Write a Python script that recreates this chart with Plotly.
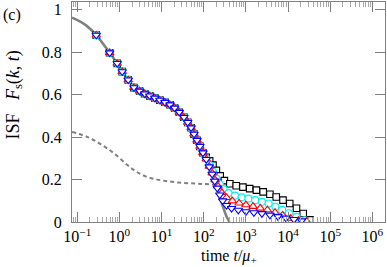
import plotly.graph_objects as go

# ---- data (log10 of time t/mu_+ and ISF values) ----
logt_common = [-0.55, -0.232, -0.052, 0.066, 0.209, 0.344, 0.479, 0.60, 0.72, 0.84, 0.96,
               1.08, 1.20, 1.31, 1.42, 1.53, 1.62, 1.70, 1.77, 1.84, 1.91, 1.98]
F_common = [0.880, 0.797, 0.747, 0.708, 0.669, 0.633, 0.617, 0.604, 0.594, 0.584, 0.574,
            0.564, 0.552, 0.537, 0.517, 0.493, 0.469, 0.444, 0.414, 0.385, 0.356, 0.326]

logt_black = [2.06, 2.14, 2.22, 2.30, 2.39, 2.49, 2.62, 2.77, 2.93, 3.09, 3.25, 3.41, 3.57,
              3.72, 3.88, 4.04, 4.20, 4.36, 4.52]
F_black = [0.305, 0.288, 0.268, 0.243, 0.217, 0.195, 0.180, 0.171, 0.164, 0.157, 0.150, 0.142,
           0.131, 0.118, 0.103, 0.087, 0.065, 0.040, 0.010]

logt_cyan = [2.06, 2.14, 2.22, 2.30, 2.38, 2.47, 2.59, 2.74, 2.90, 3.06, 3.22, 3.38, 3.54,
             3.70, 3.86, 4.02, 4.20, 4.40]
F_cyan = [0.298, 0.268, 0.236, 0.205, 0.178, 0.155, 0.136, 0.124, 0.116, 0.110, 0.103, 0.095,
          0.087, 0.072, 0.057, 0.041, 0.024, 0.008]

logt_red = [2.06, 2.13, 2.20, 2.27, 2.34, 2.43, 2.54, 2.68, 2.84, 3.00, 3.17, 3.34, 3.51,
            3.69, 3.87, 4.06, 4.25, 4.44]
F_red = [0.296, 0.262, 0.230, 0.198, 0.168, 0.138, 0.115, 0.099, 0.089, 0.081, 0.073, 0.065,
         0.057, 0.045, 0.032, 0.017, 0.008, 0.004]

logt_blue = [2.06, 2.13, 2.20, 2.26, 2.32, 2.38, 2.45, 2.54, 2.66, 2.82, 3.00, 3.19, 3.38,
             3.57, 3.76, 3.95, 4.14, 4.32]
F_blue = [0.295, 0.260, 0.226, 0.193, 0.160, 0.128, 0.100, 0.078, 0.064, 0.056, 0.049, 0.044,
          0.040, 0.033, 0.026, 0.019, 0.012, 0.006]

logt_gray_head = [-1.125, -0.95, -0.79]
F_gray_head = [0.962, 0.946, 0.926]
logt_gray_tail = [2.06, 2.13, 2.20, 2.27, 2.34, 2.41, 2.48, 2.55, 2.61]
F_gray_tail = [0.293, 0.258, 0.222, 0.185, 0.145, 0.100, 0.058, 0.022, 0.0]

logt_dash = [-1.125, -0.754, -0.44, -0.12, 0.19, 0.40, 0.62, 0.85, 1.10, 1.40, 1.70, 2.00, 2.30]
F_dash = [0.424, 0.400, 0.366, 0.322, 0.268, 0.237, 0.215, 0.202, 0.193, 0.186, 0.182, 0.179, 0.175]

xtick_vals = [1e-1, 1e0, 1e1, 1e2, 1e3, 1e4, 1e5, 1e6]
xtick_text = ["10<sup>−1</sup>", "10<sup>0</sup>", "10<sup>1</sup>", "10<sup>2</sup>",
              "10<sup>3</sup>", "10<sup>4</sup>", "10<sup>5</sup>", "10<sup>6</sup>"]
ytick_vals = [0, 0.2, 0.4, 0.6, 0.8, 1]
ytick_text = ["0", "0.2", "0.4", "0.6", "0.8", "1"]

def tt(lst):
    return [10 ** v for v in lst]

GRAY = "#808080"
FONT = "Liberation Serif, DejaVu Serif, serif"

fig = go.Figure()

gray_t = tt(logt_gray_head + logt_common + logt_gray_tail)
gray_F = F_gray_head + F_common + F_gray_tail
fig.add_trace(go.Scatter(x=gray_t, y=gray_F, mode="lines", line_shape="spline",
                         line=dict(color=GRAY, width=2.6), showlegend=False))
fig.add_trace(go.Scatter(x=tt(logt_dash), y=F_dash, mode="lines", line_shape="spline",
                         line=dict(color=GRAY, width=2, dash="4px,3px"), showlegend=False))

series = [
    (logt_black, F_black, "square", "black", 6.5),
    (logt_cyan, F_cyan, "circle", "#00f0f0", 7),
    (logt_red, F_red, "triangle-up", "red", 7.5),
    (logt_blue, F_blue, "triangle-down", "blue", 7.5),
]
for lt, F, sym, col, sz in series:
    fig.add_trace(go.Scatter(
        x=tt(logt_common + lt), y=F_common + F, mode="markers",
        marker=dict(symbol=sym, size=sz, color="white", line=dict(color=col, width=1.1)),
        showlegend=False))

minor_vals = [m * 10 ** d for d in range(-2, 7) for m in range(2, 10)]

fig.update_xaxes(
    type="log", range=[-1.125, 6.3], automargin=False,
    tickmode="array", tickvals=xtick_vals, ticktext=xtick_text,
    ticks="inside", ticklen=10, tickwidth=1, tickcolor=GRAY,
    showline=True, linecolor=GRAY, linewidth=1.3, mirror="ticks",
    showgrid=False, zeroline=False,
    minor=dict(tickmode="array", tickvals=minor_vals, ticks="inside", ticklen=5,
               tickwidth=1, tickcolor="#a8a8a8", showgrid=False),
    tickfont=dict(family=FONT, size=16, color="black"),
)
fig.update_yaxes(
    range=[0, 1.036], automargin=False,
    tickmode="array", tickvals=ytick_vals, ticktext=ytick_text,
    ticks="inside", ticklen=10, tickwidth=1, tickcolor=GRAY,
    showline=True, linecolor=GRAY, linewidth=1.3, mirror="ticks",
    showgrid=False, zeroline=False,
    tickfont=dict(family=FONT, size=16, color="black"),
    ticklabelstandoff=6,
)

fig.add_annotation(text="(c)", xref="paper", yref="paper", x=-0.228, y=0.99,
                   xanchor="left", yanchor="top", showarrow=False,
                   font=dict(family=FONT, size=16, color="black"))
fig.add_annotation(text="time <i>t</i>/<i>μ</i><sub>+</sub>", xref="paper", yref="paper",
                   x=0.5, y=-0.155, xanchor="center", yanchor="middle", showarrow=False,
                   font=dict(family=FONT, size=16, color="black"))
fig.add_annotation(text="ISF&nbsp;&nbsp;&nbsp;<i>F</i><sub>s</sub>(<i>k</i>,&nbsp;<i>t</i>)",
                   xref="paper", yref="paper",
                   x=-0.185, y=0.575, xanchor="center", yanchor="middle", showarrow=False,
                   textangle=-90, font=dict(family=FONT, size=18, color="black"))

fig.update_layout(width=387, height=267, margin=dict(l=72, r=2, t=2, b=45),
                  plot_bgcolor="white", paper_bgcolor="white")

fig.write_html("out.html", config={"displayModeBar": False},
               post_script="document.body.style.margin='0';document.body.style.overflow='hidden';")
